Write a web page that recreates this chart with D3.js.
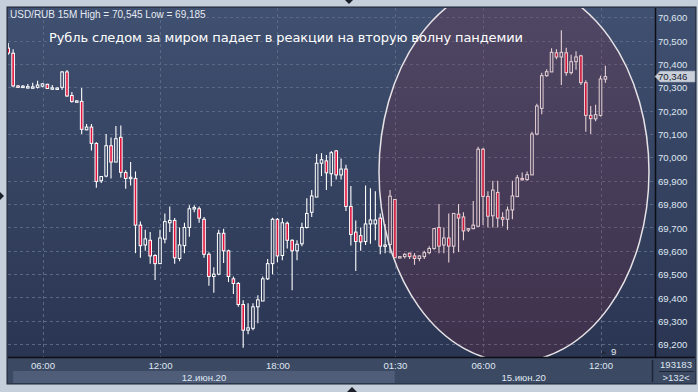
<!DOCTYPE html>
<html>
<head>
<meta charset="utf-8">
<script src="https://cdn.jsdelivr.net/npm/d3@7"></script>
<style>
	body { margin: 0; background: #c5cfdb; }
	text { font-family: "Liberation Sans", Arial, sans-serif; }
</style>
</head>
<body>
<div id="chart"></div>
<script>
	var width = 698; var height = 392;

	// USD/RUB 15M candles: Fri 12 Jun 04:15-23:45, Mon 15 Jun 01:30-12:30
	var open = [70.468,70.446,70.306,70.300,70.303,70.302,70.300,70.305,70.313,70.298,
		70.295,70.300,70.366,70.265,70.240,70.240,70.118,70.130,70.060,69.900,
		69.920,70.050,69.980,70.086,69.935,69.910,69.910,69.710,69.625,69.645,
		69.580,69.545,69.650,69.720,69.730,69.567,69.622,69.700,69.780,69.780,
		69.735,69.585,69.490,69.500,69.675,69.600,69.480,69.460,69.370,69.260,
		69.268,69.360,69.385,69.480,69.545,69.735,69.580,69.718,69.645,69.600,
		69.630,69.700,69.765,69.830,69.975,69.985,69.930,70.028,69.925,69.950,
		69.790,69.680,69.665,69.640,69.715,69.715,69.740,69.620,69.627,
		69.820,69.570,69.575,69.590,69.578,69.567,69.575,69.592,69.610,69.700,
		69.625,69.655,69.620,69.757,69.745,69.690,69.695,69.705,70.035,69.833,
		69.750,69.850,69.743,69.735,69.775,69.832,69.910,69.905,69.925,70.100,
		70.210,70.350,70.366,70.448,70.430,70.448,70.363,70.410,70.435,70.320,
		70.180,70.165,70.180,70.335];
	var high = [70.490,70.463,70.310,70.310,70.314,70.320,70.328,70.318,70.315,70.310,
		70.300,70.370,70.374,70.280,70.245,70.297,70.143,70.143,70.065,69.918,
		70.100,70.085,70.135,70.137,69.945,69.980,69.940,69.725,69.690,69.680,
		69.585,69.690,69.760,69.790,69.740,69.700,69.720,69.795,69.795,69.790,
		69.745,69.594,69.530,69.690,69.694,69.605,69.490,69.466,69.388,69.375,
		69.375,69.410,69.490,69.565,69.742,69.740,69.740,69.725,69.650,69.645,
		69.720,69.825,69.860,70.015,70.018,70.010,70.027,70.032,69.995,69.968,
		69.877,69.730,69.700,69.880,69.868,69.855,69.760,69.715,69.860,
		69.822,69.575,69.590,69.592,69.590,69.580,69.600,69.620,69.698,69.800,
		69.700,69.760,69.760,69.800,69.765,69.698,69.813,70.046,70.040,69.855,
		69.900,69.900,69.765,69.790,69.900,69.925,69.935,69.940,70.110,70.230,
		70.363,70.378,70.467,70.463,70.545,70.470,70.440,70.455,70.440,70.330,
		70.220,70.225,70.350,70.393];
	var low = [70.440,70.300,70.297,70.297,70.295,70.295,70.295,70.300,70.293,70.290,
		70.290,70.290,70.260,70.235,70.236,70.100,70.116,70.030,69.870,69.890,
		69.915,69.910,69.980,69.914,69.866,69.880,69.590,69.570,69.600,69.545,
		69.475,69.545,69.632,69.680,69.545,69.555,69.590,69.660,69.765,69.720,
		69.570,69.450,69.420,69.495,69.548,69.466,69.415,69.360,69.185,69.243,
		69.260,69.290,69.385,69.475,69.500,69.551,69.560,69.610,69.431,69.560,
		69.620,69.695,69.745,69.830,69.920,69.860,69.876,69.905,69.905,69.770,
		69.623,69.513,69.600,69.625,69.630,69.645,69.585,69.590,69.590,
		69.570,69.568,69.567,69.565,69.540,69.555,69.565,69.585,69.605,69.590,
		69.590,69.550,69.590,69.595,69.645,69.680,69.692,69.705,69.710,69.700,
		69.700,69.700,69.705,69.690,69.735,69.830,69.900,69.900,69.925,70.095,
		70.185,70.345,70.366,70.420,70.310,70.350,70.355,70.375,70.310,70.110,
		70.100,70.155,70.175,70.320];
	var close = [70.447,70.306,70.300,70.305,70.303,70.302,70.310,70.315,70.295,70.298,
		70.297,70.366,70.263,70.239,70.242,70.120,70.130,70.060,69.897,69.918,
		70.050,69.980,70.080,69.936,69.910,69.915,69.710,69.622,69.651,69.578,
		69.545,69.655,69.725,69.730,69.570,69.625,69.700,69.780,69.785,69.740,
		69.585,69.490,69.500,69.675,69.600,69.490,69.460,69.370,69.260,69.270,
		69.360,69.390,69.480,69.545,69.735,69.578,69.720,69.645,69.600,69.628,
		69.700,69.760,69.835,69.975,69.990,69.934,70.020,69.925,69.950,69.790,
		69.670,69.640,69.638,69.715,69.732,69.732,69.620,69.625,69.834,
		69.570,69.575,69.585,69.575,69.567,69.578,69.592,69.610,69.695,69.620,
		69.655,69.620,69.760,69.740,69.685,69.695,69.710,70.035,69.833,69.748,
		69.860,69.740,69.735,69.775,69.835,69.913,69.905,69.926,70.100,70.220,
		70.350,70.367,70.450,70.430,70.450,70.363,70.410,70.430,70.320,70.180,
		70.166,70.183,70.336,70.346];

	var timeTicks = [7, 31, 55, 79, 97, 121];
	var timeLabels = ["06:00", "12:00", "18:00", "01:30", "06:00", "12:00"];
	var dayLabels = ["12.июн.20", "15.июн.20"];
	var dayStart = [1, 79];
	var dayEnd = [79, 131.6];
	var priceTicks = [69.2, 69.3, 69.4, 69.5, 69.6, 69.7, 69.8, 69.9, 70.0, 70.1, 70.2, 70.3, 70.4, 70.5, 70.6];
	var lastPrice = 70.346;
	var title = "Рубль следом за миром падает в реакции на вторую волну пандемии";
	var header = "USD/RUB 15M High = 70,545 Low = 69,185";

	var plot = {left: 8, top: 8, right: 655, bottom: 357};

	var x = d3.scaleLinear().domain([7, 121]).range([42.5, 600.5]);
	var y = d3.scaleLinear().domain([69.2, 70.6]).range([344.2, 17.3]);
	var fmt = function(v) { return d3.format(".3f")(v).replace(".", ","); };

	var svg = d3.select("#chart").append("svg")
		.attr("width", width)
		.attr("height", height);

	// background gradient in user space so hollow candles can reuse it
	var defs = svg.append("defs");
	var grad = defs.append("linearGradient").attr("id", "bg")
		.attr("gradientUnits", "userSpaceOnUse")
		.attr("x1", 0).attr("y1", plot.top).attr("x2", 0).attr("y2", plot.bottom);
	grad.append("stop").attr("offset", "0%").attr("stop-color", "#405070");
	grad.append("stop").attr("offset", "100%").attr("stop-color", "#2a3552");
	defs.append("clipPath").attr("id", "clip").append("rect")
		.attr("x", plot.left).attr("y", plot.top)
		.attr("width", plot.right - plot.left).attr("height", plot.bottom - plot.top);

	///////////////////////////////////////////////////////////////////////////
	// Window frame and panels
	svg.append("rect").attr("x", 0).attr("y", 0).attr("width", width).attr("height", height).attr("fill", "#c5cfdb");
	svg.append("rect").attr("x", 7).attr("y", 7).attr("width", 689).attr("height", 377)
		.attr("fill", "#3c4963").attr("stroke", "#1d2433").attr("stroke-width", 1);
	svg.append("rect").attr("x", plot.left).attr("y", plot.top)
		.attr("width", 695 - plot.left).attr("height", plot.bottom - plot.top).attr("fill", "url(#bg)");

	// date band (first day highlighted)
	svg.selectAll(".dayband").data(dayLabels).enter().append("rect")
		.attr("x", function(d, i) { return x(dayStart[i]); })
		.attr("y", 371)
		.attr("width", function(d, i) { return x(dayEnd[i]) - x(dayStart[i]); })
		.attr("height", 12)
		.attr("fill", function(d, i) { return i == 0 ? "#4f5d79" : "#3c4963"; });

	///////////////////////////////////////////////////////////////////////////
	// Grid
	var grid = svg.append("g").attr("stroke", "#5a6884").attr("stroke-dasharray", "3,3").attr("stroke-width", 1);
	grid.selectAll(".hg").data(priceTicks).enter().append("line")
		.attr("x1", plot.left).attr("x2", plot.right)
		.attr("y1", function(d) { return Math.round(y(d)) + 0.5; })
		.attr("y2", function(d) { return Math.round(y(d)) + 0.5; });
	grid.selectAll(".vg").data(timeTicks).enter().append("line")
		.attr("y1", plot.top).attr("y2", plot.bottom)
		.attr("x1", function(d) { return Math.round(x(d)) + 0.5; })
		.attr("x2", function(d) { return Math.round(x(d)) + 0.5; });

	///////////////////////////////////////////////////////////////////////////
	// Candles
	var g = svg.append("g").attr("clip-path", "url(#clip)");
	var idx = d3.range(open.length);

	g.selectAll(".wick").data(idx).enter().append("line")
		.attr("x1", function(i) { return x(i); })
		.attr("x2", function(i) { return x(i); })
		.attr("y1", function(i) { return y(high[i]); })
		.attr("y2", function(i) { return y(low[i]); })
		.attr("stroke", "#ffffff").attr("stroke-width", 1.1);

	g.selectAll(".body").data(idx).enter().append("rect")
		.attr("x", function(i) { return x(i) - 1.3; })
		.attr("y", function(i) { return y(Math.max(open[i], close[i])); })
		.attr("width", 2.6)
		.attr("height", function(i) { return Math.max(Math.abs(y(open[i]) - y(close[i])), 1.4); })
		.attr("fill", function(i) { return close[i] < open[i] ? "#e3123c" : "url(#bg)"; })
		.attr("stroke", "#ffffff").attr("stroke-width", 1);

	// highlight ellipse
	g.append("ellipse")
		.attr("cx", 514).attr("cy", 172).attr("rx", 135).attr("ry", 190)
		.attr("fill", "rgb(135,38,55)").attr("fill-opacity", 0.21)
		.attr("stroke", "#e6e2e6").attr("stroke-width", 1.5);

	///////////////////////////////////////////////////////////////////////////
	// Axes frame lines
	svg.append("line").attr("x1", plot.left).attr("x2", 695).attr("y1", plot.bottom + 0.5).attr("y2", plot.bottom + 0.5)
		.attr("stroke", "#0c0f16").attr("stroke-width", 1.5);
	svg.append("line").attr("x1", plot.right + 0.5).attr("x2", plot.right + 0.5).attr("y1", plot.top).attr("y2", plot.bottom)
		.attr("stroke", "#0c0f16").attr("stroke-width", 1.5);
	svg.append("line").attr("x1", 652.5).attr("x2", 652.5).attr("y1", 360).attr("y2", 382)
		.attr("stroke", "#1e2535").attr("stroke-width", 1.5);
	svg.append("line").attr("x1", 659).attr("x2", 694).attr("y1", 371.5).attr("y2", 371.5)
		.attr("stroke", "#1e2535").attr("stroke-width", 1);

	// Price axis (right)
	var yAxis = d3.axisRight(y).tickValues(priceTicks).tickFormat(fmt).tickSize(0).tickPadding(3);
	var ya = svg.append("g").attr("transform", "translate(" + plot.right + ",0.5)").call(yAxis);
	ya.select(".domain").remove();
	ya.selectAll("text").attr("fill", "#dfe7f1").attr("font-size", "9.6px")
		.style("font-family", "'Liberation Sans', Arial, sans-serif");

	// Time axis (bottom)
	var xAxis = d3.axisBottom(x).tickValues(timeTicks)
		.tickFormat(function(d, i) { return timeLabels[i]; }).tickSize(0).tickPadding(4);
	var xa = svg.append("g").attr("transform", "translate(0," + (plot.bottom + 1) + ")").call(xAxis);
	xa.select(".domain").remove();
	xa.selectAll("text").attr("fill", "#dfe7f1").attr("font-size", "9.6px")
		.style("font-family", "'Liberation Sans', Arial, sans-serif");

	svg.selectAll(".daylabel").data(dayLabels).enter().append("text")
		.attr("x", function(d, i) { return (x(dayStart[i]) + x(dayEnd[i])) / 2; })
		.attr("y", 380.5)
		.attr("text-anchor", "middle")
		.attr("fill", "#dfe7f1").attr("font-size", "9.6px")
		.text(function(d) { return d; });

	// Bottom-right counters
	svg.append("text").attr("x", 676).attr("y", 368).attr("text-anchor", "middle")
		.attr("fill", "#dfe7f1").attr("font-size", "9.6px").text("193183");
	svg.append("text").attr("x", 676).attr("y", 381).attr("text-anchor", "middle")
		.attr("fill", "#dfe7f1").attr("font-size", "9.6px").text(">132<");

	// Last price marker
	var yl = y(lastPrice);
	svg.append("path")
		.attr("d", "M655," + yl + " L660," + (yl - 5.5) + " L695," + (yl - 5.5) + " L695," + (yl + 5.5) + " L660," + (yl + 5.5) + " Z")
		.attr("fill", "#c9d0da").attr("stroke", "#8c96a6").attr("stroke-width", 0.6);
	svg.append("text").attr("x", 658).attr("y", yl + 3.6)
		.attr("fill", "#1a2233").attr("font-size", "9.6px").text(fmt(lastPrice));

	///////////////////////////////////////////////////////////////////////////
	// Header and title
	svg.append("text").attr("x", 10).attr("y", 17.5)
		.attr("fill", "#e4eaf2").attr("font-size", "10px")
		.text(header);
	svg.append("text").attr("x", 49).attr("y", 41.7)
		.attr("fill", "#ffffff").attr("font-size", "13px")
		.style("font-family", "'DejaVu Sans', Verdana, sans-serif")
		.attr("textLength", 474).attr("lengthAdjust", "spacing")
		.text(title);

	// small markers
	svg.append("path").attr("d", "M602,350 L607,354 L602,354 Z").attr("fill", "#20283a");
	svg.append("text").attr("x", 611).attr("y", 355).attr("fill", "#e4eaf2").attr("font-size", "9.6px").text("9");
	svg.append("path").attr("d", "M345,0 L353,0 L349,4 Z").attr("fill", "#1a1f2a");
	svg.append("path").attr("d", "M347,392 L357,392 L352,387 Z").attr("fill", "#1a1f2a");
	svg.append("path").attr("d", "M0,192 L4,196 L0,200 Z").attr("fill", "#1a1f2a");
</script>
</body>
</html>
